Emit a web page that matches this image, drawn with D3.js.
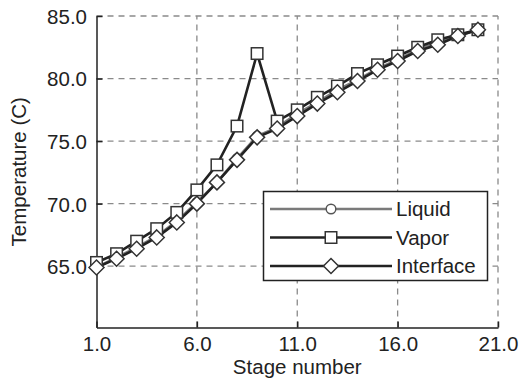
<!DOCTYPE html>
<html><head><meta charset="utf-8">
<script src="https://cdn.jsdelivr.net/npm/d3@7"></script>
<style>body{margin:0;background:#fff}svg{display:block}text{font-family:"Liberation Sans",Arial,Helvetica,sans-serif;fill:#222}</style>
</head><body>
<script>
const stages = [1,2,3,4,5,6,7,8,9,10,11,12,13,14,15,16,17,18,19,20];
const liquid = [64.9,65.7,66.5,67.4,68.6,70.1,71.7,73.6,75.4,76.1,77.2,78.1,79.1,79.9,80.8,81.5,82.3,82.9,83.4,83.9];
const vapor = [65.3,66.0,67.0,68.0,69.3,71.1,73.1,76.2,82.0,76.6,77.5,78.5,79.4,80.4,81.1,81.8,82.5,83.1,83.5,83.9];
const iface = [64.9,65.6,66.4,67.3,68.5,70.0,71.7,73.5,75.3,76.0,77.0,78.0,78.9,79.8,80.7,81.4,82.2,82.7,83.4,83.9];
const xTicks = [1,6,11,16,21];
const yTicks = [65,70,75,80,85];
const seriesNames = ["Liquid","Vapor","Interface"];

const W=520,H=379;
const m={l:96.5,r:22,t:16,b:51.5};
const svg=d3.select("body").append("svg").attr("width",W).attr("height",H);
const x=d3.scaleLinear().domain([1,21]).range([m.l,W-m.r]);
const y=d3.scaleLinear().domain([60.1,85]).range([H-m.b,m.t]);
const FS=20.5;

// grid
const g=svg.append("g");
g.selectAll(".gx").data(xTicks.slice(1)).enter().append("line")
 .attr("x1",d=>x(d)).attr("x2",d=>x(d)).attr("y1",y(60.1)).attr("y2",y(85))
 .attr("stroke","#8a8a8a").attr("stroke-width",1.3).attr("stroke-dasharray","6,5");
g.selectAll(".gy").data(yTicks).enter().append("line")
 .attr("x1",x(1)).attr("x2",x(21)).attr("y1",d=>y(d)).attr("y2",d=>y(d))
 .attr("stroke","#8a8a8a").attr("stroke-width",1.3).attr("stroke-dasharray","6,5");

// axes
const xAxis=d3.axisBottom(x).tickValues(xTicks).tickFormat(d3.format(".1f")).tickSizeInner(-6).tickSizeOuter(0).tickPadding(9);
const yAxis=d3.axisLeft(y).tickValues(yTicks).tickFormat(d3.format(".1f")).tickSizeInner(-6).tickSizeOuter(0).tickPadding(9.5);
const ax=svg.append("g").attr("transform",`translate(0,${y(60.1)})`).call(xAxis);
const ay=svg.append("g").attr("transform",`translate(${x(1)},0)`).call(yAxis);
[ax,ay].forEach(a=>{
  a.select(".domain").attr("stroke","#222").attr("stroke-width",1.5);
  a.selectAll(".tick line").attr("stroke","#222").attr("stroke-width",1.5);
  a.selectAll(".tick text").attr("font-size",FS).attr("fill","#222").attr("font-family",'"Liberation Sans",Arial,sans-serif');
});
ay.selectAll(".tick text").attr("dy","0.36em");

svg.append("text").attr("x",(x(1)+x(21))/2).attr("y",374).attr("text-anchor","middle").attr("font-size",FS).text("Stage number");
svg.append("text").attr("transform",`translate(26,${(y(60.1)+y(85))/2}) rotate(-90)`).attr("text-anchor","middle").attr("font-size",FS).text("Temperature (C)");

const line=d3.line().x((d,i)=>x(stages[i])).y(d=>y(d));
const sq=11.5, dm=7.5;
function drawMarker(sel,type,cx,cy,color){
  if(type==="circle") sel.append("circle").attr("cx",cx).attr("cy",cy).attr("r",4.8).attr("fill","#fff").attr("stroke",color).attr("stroke-width",1.4);
  else if(type==="square") sel.append("rect").attr("x",cx-sq/2).attr("y",cy-sq/2).attr("width",sq).attr("height",sq).attr("fill","#fff").attr("stroke",color).attr("stroke-width",1.5);
  else sel.append("path").attr("d",`M${cx},${cy-dm}L${cx+dm},${cy}L${cx},${cy+dm}L${cx-dm},${cy}Z`).attr("fill","#fff").attr("stroke",color).attr("stroke-width",1.5);
}
const series=[
  {name:"Liquid",vals:liquid,color:"#7a7a7a",mk:"circle"},
  {name:"Vapor",vals:vapor,color:"#222",mk:"square"},
  {name:"Interface",vals:iface,color:"#222",mk:"diamond"}
];
series.forEach(s=>{
  svg.append("path").attr("d",line(s.vals)).attr("fill","none").attr("stroke",s.color).attr("stroke-width",2.6);
});
series.forEach(s=>{
  const gg=svg.append("g");
  s.vals.forEach((v,i)=>drawMarker(gg,s.mk,x(stages[i]),y(v),s.color==="#7a7a7a"?"#555":"#333"));
});

// legend
const lg=svg.append("g");
lg.append("rect").attr("x",263.5).attr("y",191.5).attr("width",224).attr("height",89).attr("fill","#fff").attr("stroke","#222").attr("stroke-width",1.5);
series.forEach((s,i)=>{
  const ly=209+i*28.5;
  lg.append("line").attr("x1",270).attr("x2",392).attr("y1",ly).attr("y2",ly).attr("stroke",s.color).attr("stroke-width",2.6);
  drawMarker(lg,s.mk,331,ly,s.color==="#7a7a7a"?"#555":"#333");
  lg.append("text").attr("x",396).attr("y",ly).attr("dy","0.36em").attr("font-size",FS).text(seriesNames[i]);
});
</script>
</body></html>
